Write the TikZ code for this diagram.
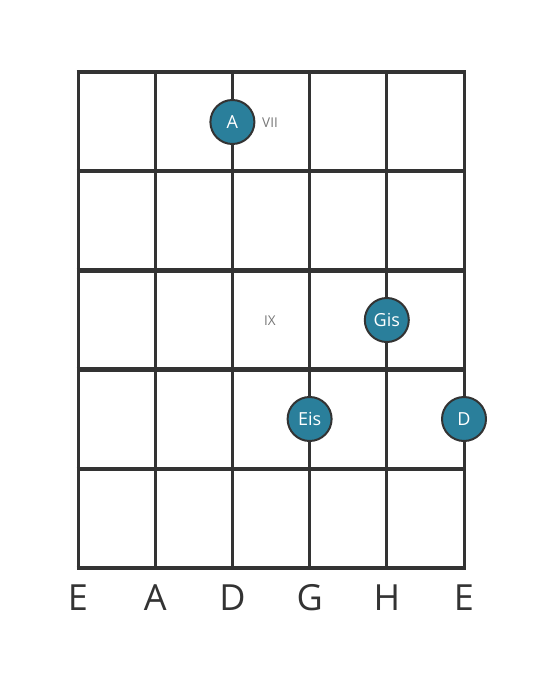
\documentclass[tikz,border=0pt]{standalone}
\usepackage{fontspec}
\setmainfont{Open Sans}
\definecolor{GridGray}{HTML}{333333}
\definecolor{NoteBlue}{HTML}{2A7F9B}
\definecolor{LabelGray}{HTML}{777777}
\begin{document}
\begin{tikzpicture}[x=1pt,y=-1pt]

      \tikzstyle{StringLine} = [draw=GridGray, line width=3pt]
      \tikzstyle{FretLine} = [draw=GridGray, line width=4.5pt]
      \tikzstyle{NoteDot} = [
      circle,
      minimum size=44pt,
      inner sep=0pt,
      draw=GridGray,
      line width=2pt,
      fill=NoteBlue,
      text=white,
      font=\fontsize{18}{21}\selectfont
      ]
      \tikzstyle{FretLabel} = [text=LabelGray, font=\fontsize{13.5}{15}\selectfont]
      \tikzstyle{StringName} = [text=GridGray, font=\fontsize{36}{40}\selectfont]

      \useasboundingbox (0,0) rectangle (559,682);

      \foreach \x in {78,155.2,232.4,309.6,386.8,464}
        \draw [StringLine] (\x,72) -- (\x,568);
      \foreach \y in {72,171.2,270.4,369.6,468.8,568}
        \draw [FretLine] (76.5,\y) -- (465.5,\y);

      \node (NoteA) [NoteDot] at (232.4,122) {A};
      \node (NoteGis) [NoteDot] at (386.8,320) {Gis};
      \node (NoteEis) [NoteDot] at (309.6,419) {Eis};
      \node (NoteD) [NoteDot] at (464,419) {D};

      \node (FretVII) [FretLabel] at (270,123) {VII};
      \node (FretIX) [FretLabel] at (270,321) {IX};

      \node (StrE) [StringName] at (78,598) {E};
      \node (StrA) [StringName] at (155.2,598) {A};
      \node (StrD) [StringName] at (232.4,598) {D};
      \node (StrG) [StringName] at (309.6,598) {G};
      \node (StrH) [StringName] at (386.8,598) {H};
      \node (StrE2) [StringName] at (464,598) {E};

    \end{tikzpicture}
\end{document}
